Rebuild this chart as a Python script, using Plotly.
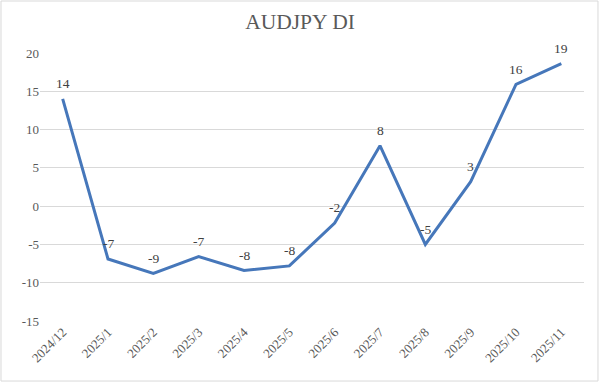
import plotly.graph_objects as go

categories = ["2024/12", "2025/1", "2025/2", "2025/3", "2025/4", "2025/5",
              "2025/6", "2025/7", "2025/8", "2025/9", "2025/10", "2025/11"]
di_values = [14.0, -6.9, -8.8, -6.6, -8.4, -7.8, -2.2, 7.9, -5.0, 3.2, 15.9, 18.6]
y_ticks = [-15, -10, -5, 0, 5, 10, 15, 20]
y_tick_labels = ["-15", "-10", "-5", "0", "5", "10", "15", "20"]
labels = ["%d" % round(v) for v in di_values]

font_family = "Liberation Serif, DejaVu Serif, serif"
gray = "#595959"

fig = go.Figure()
fig.add_trace(go.Scatter(
    x=categories, y=di_values, mode="lines",
    line=dict(color="#4677BA", width=3),
    hoverinfo="skip",
))

annotations = [
    dict(x=c, y=v, text=t, showarrow=False, yshift=15, xref="x", yref="y",
         font=dict(family=font_family, size=13.5, color="#404040"))
    for c, v, t in zip(categories, di_values, labels)
]

fig.update_layout(
    width=600, height=383,
    margin=dict(l=40, r=16, t=53, b=62),
    paper_bgcolor="white", plot_bgcolor="white",
    showlegend=False,
    title=dict(text="AUDJPY DI", x=0.5, xanchor="center", y=0.945, yanchor="middle",
               font=dict(family=font_family, size=21.5, color=gray)),
    xaxis=dict(type="category", showgrid=False, showline=False, ticks="",
               tickangle=-45, range=[-0.5, 11.5], automargin=False,
               tickfont=dict(family=font_family, size=13, color=gray)),
    yaxis=dict(range=[-15, 20], tickvals=y_ticks, ticktext=y_tick_labels,
               showgrid=True, gridcolor="#d9d9d9", gridwidth=1,
               zeroline=False, showline=False, ticks="", automargin=False,
               tickfont=dict(family=font_family, size=13, color=gray)),
    annotations=annotations,
    shapes=[dict(type="rect", xref="paper", yref="paper",
                 x0=-0.0717, x1=1.0257, y0=-0.224, y1=1.194,
                 line=dict(color="#d9d9d9", width=1), fillcolor="rgba(0,0,0,0)",
                 layer="below")],
)

fig.write_html("out.html", config={"displayModeBar": False},
               post_script="document.body.style.margin='0';")
